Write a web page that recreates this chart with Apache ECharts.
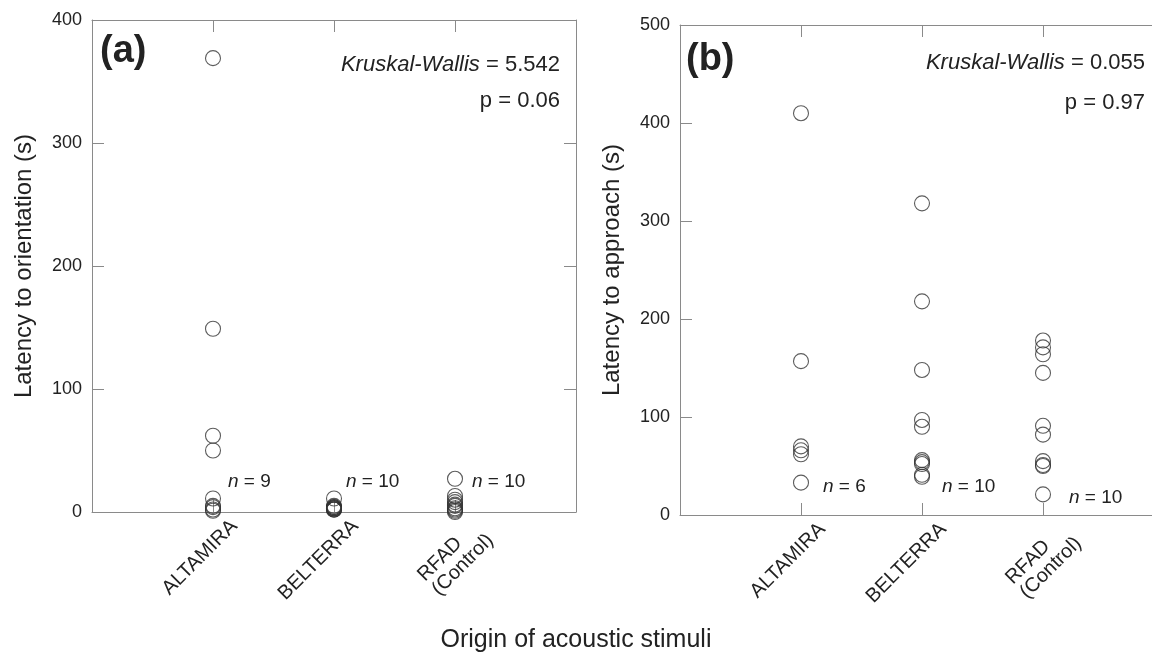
<!DOCTYPE html>
<html>
<head>
<meta charset="utf-8">
<script src="https://cdn.jsdelivr.net/npm/echarts@6/dist/echarts.min.js"></script>
<title>Latency scatter</title>
</head>
<body style="margin:0">
<div id="container" style="width:1152px;height:657px"></div>
<script type="text/javascript">

// categories sit at x = 1, 2, 3 on a 0..4 axis
const categories = ['ALTAMIRA', 'BELTERRA', 'RFAD\n(Control)'];

// (a) latency to orientation (s)
const orientAltamira = [369, 149, 62, 50, 11, 5, 4, 2, 1];
const orientBelterra = [11, 5, 4, 4, 3, 3, 3, 2, 2, 2];
const orientRfad = [27, 13, 10, 8, 6, 5, 3, 2, 1, 0];

// (b) latency to approach (s)
const approachAltamira = [410, 157, 70, 66, 62, 33];
const approachBelterra = [318, 218, 148, 97, 90, 56, 54, 52, 41, 39];
const approachRfad = [178, 171, 164, 145, 91, 82, 55, 51, 50, 21];

const nCounts = [9, 10, 10, 6, 10, 10];

const font = 'Liberation Sans, Arial, sans-serif';
const ink = '#222';
const frame = '#8a8a8a';

function toPoints(groups) {
    let pts = [];
    groups.forEach(function (g, i) {
        g.forEach(function (v) { pts.push([i + 1, v]); });
    });
    return pts;
}

// multi-line labels keep their lines left aligned, like the original
function catFormatter(v) {
    if (v < 1 || v > 3) return '';
    return categories[v - 1].split('\n').map(function (s) { return '{l|' + s + '}'; }).join('\n');
}

function xAxes(gi) {
    return [
        {
            type: 'value', gridIndex: gi, min: 0, max: 4, interval: 1,
            axisLine: { onZero: false, lineStyle: { color: frame } },
            axisTick: { inside: true, length: 12, lineStyle: { color: frame } },
            splitLine: { show: false },
            axisLabel: {
                formatter: catFormatter, rotate: 45, margin: -10,
                verticalAlign: 'top', padding: [20, 0, 0, 0],
                fontFamily: font, fontSize: 20, color: ink, lineHeight: 20,
                rich: { l: { align: 'left', fontFamily: font, fontSize: 20, color: ink, lineHeight: 20 } }
            }
        },
        {
            type: 'value', gridIndex: gi, min: 0, max: 4, interval: 1, position: 'top',
            axisLine: { onZero: false, lineStyle: { color: frame } },
            axisTick: { inside: true, length: 12, lineStyle: { color: frame } },
            splitLine: { show: false },
            axisLabel: { show: false }
        }
    ];
}

function yAxes(gi, max, name) {
    return [
        {
            type: 'value', gridIndex: gi, min: 0, max: max, interval: 100,
            name: name, nameLocation: 'middle', nameGap: 56,
            nameTextStyle: { fontFamily: font, fontSize: 24, color: ink },
            axisLine: { show: true, onZero: false, lineStyle: { color: frame } },
            axisTick: { show: true, inside: true, length: 12, lineStyle: { color: frame } },
            splitLine: { show: false },
            axisLabel: { fontFamily: font, fontSize: 18, color: ink, margin: 10 }
        },
        {
            type: 'value', gridIndex: gi, min: 0, max: max, interval: 100, position: 'right',
            axisLine: { show: true, onZero: false, lineStyle: { color: frame } },
            axisTick: { show: true, inside: true, length: 12, lineStyle: { color: frame } },
            splitLine: { show: false },
            axisLabel: { show: false }
        }
    ];
}

function txt(x, y, text, opts) {
    const size = (opts && opts.fontSize) || 22;
    return {
        type: 'text', x: x, y: y,
        style: Object.assign({
            text: text, fontFamily: font, fontSize: size, fill: ink,
            rich: { i: { fontStyle: 'italic', fontFamily: font, fontSize: size, fill: ink } }
        }, opts || {})
    };
}

function nText(x, y, k) {
    return txt(x, y, '{i|n} = ' + nCounts[k], { fontSize: 19 });
}

const circleStyle = { color: 'transparent', borderColor: '#333', borderWidth: 1.1 };

const dom = document.getElementById('container');
const chart = echarts.init(dom);

chart.setOption({
    animation: false,
    backgroundColor: '#fff',
    grid: [
        { left: 92, top: 20, width: 484, height: 492, outerBoundsMode: 'none' },
        { left: 680, top: 25, width: 484, height: 490, outerBoundsMode: 'none' }
    ],
    xAxis: xAxes(0).concat(xAxes(1)),
    yAxis: yAxes(0, 400, 'Latency to orientation (s)').concat(yAxes(1, 500, 'Latency to approach (s)')),
    series: [
        {
            type: 'scatter', xAxisIndex: 0, yAxisIndex: 0, symbol: 'circle', symbolSize: 15,
            clip: false, itemStyle: circleStyle,
            data: toPoints([orientAltamira, orientBelterra, orientRfad])
        },
        {
            type: 'scatter', xAxisIndex: 2, yAxisIndex: 2, symbol: 'circle', symbolSize: 15,
            clip: false, itemStyle: circleStyle,
            data: toPoints([approachAltamira, approachBelterra, approachRfad])
        }
    ],
    graphic: [
        txt(100, 33, '(a)', { fontSize: 38, fontWeight: 'bold' }),
        txt(686, 41, '(b)', { fontSize: 38, fontWeight: 'bold' }),
        txt(560, 54, '{i|Kruskal-Wallis} = 5.542', { align: 'right' }),
        txt(560, 90, 'p = 0.06', { align: 'right' }),
        txt(1145, 52, '{i|Kruskal-Wallis} = 0.055', { align: 'right' }),
        txt(1145, 92, 'p = 0.97', { align: 'right' }),
        nText(228, 472, 0),
        nText(346, 472, 1),
        nText(472, 472, 2),
        nText(823, 477, 3),
        nText(942, 477, 4),
        nText(1069, 488, 5),
        txt(576, 628, 'Origin of acoustic stimuli', { align: 'center', fontSize: 25 })
    ]
});

</script>
</body>
</html>
